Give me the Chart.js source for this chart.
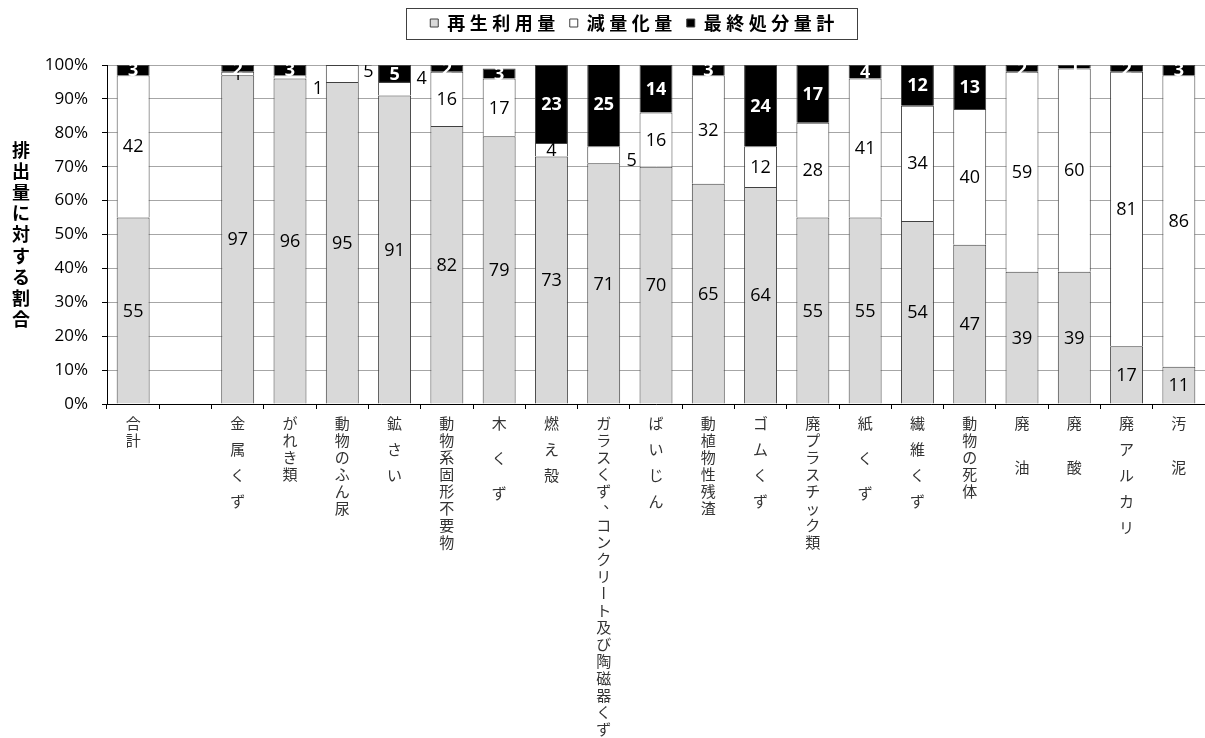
<!DOCTYPE html>
<html lang="ja">
<head>
<meta charset="utf-8">
<script src="https://cdn.jsdelivr.net/npm/chart.js@4.4.0/dist/chart.umd.min.js"></script>
<style>
  html, body { margin: 0; padding: 0; background: #fff; }
  #wrap { width: 1205px; height: 738px; position: relative; }
</style>
</head>
<body>
<div id="wrap"><canvas id="c"></canvas></div>
<script>
// 種類別の排出量に対する再生利用・減量化・最終処分の割合（%）
const categories = [
  '合計', '', '金 属 く ず', 'がれき類', '動物のふん尿', '鉱 さ い', '動物系固形不要物',
  '木  く  ず', '燃 え 殻', 'ガラスくず、コンクリート及び陶磁器くず', 'ば い じ ん',
  '動植物性残渣', 'ゴ ム く ず', '廃プラスチック類', '紙  く  ず', '繊 維 く ず',
  '動物の死体', '廃   油', '廃   酸', '廃 ア ル カ リ', '汚   泥'
];
const seriesNames = ['再生利用量', '減量化量', '最終処分量計'];
const recycled = [55, null, 97, 96, 95, 91, 82, 79, 73, 71, 70, 65, 64, 55, 55, 54, 47, 39, 39, 17, 11];
const reduced  = [42, null, 1, 1, 5, 4, 16, 17, 4, 5, 16, 32, 12, 28, 41, 34, 40, 59, 60, 81, 86];
const disposed = [3, null, 2, 3, 0, 5, 2, 3, 23, 25, 14, 3, 24, 17, 4, 12, 13, 2, 1, 2, 3];
const yTickLabels = ['0%', '10%', '20%', '30%', '40%', '50%', '60%', '70%', '80%', '90%', '100%'];
const yTitle = '排出量に対する割合';

// Labels of thin segments that sit beside their bar instead of on it
const sideLabels = [
  { ds: 1, idx: 3, dx: 28, dy: 11 },
  { ds: 1, idx: 4, dx: 26, dy: -3 },
  { ds: 1, idx: 5, dx: 27, dy: -11 },
  { ds: 1, idx: 9, dx: 28, dy: 5 }
];

const fills = ['#d9d9d9', '#ffffff', '#000000'];
const numFont = '"Open Sans", "Noto Sans", sans-serif';
const cjkFont = '"Noto Sans CJK JP", sans-serif';
const legendShift = 32;
const legendSpacing = '4.5px';

// Stacked percentage labels, clipped to the plot area
const segmentLabels = {
  id: 'segmentLabels',
  afterDatasetsDraw(chart) {
    const { ctx, chartArea } = chart;
    ctx.save();
    ctx.beginPath();
    ctx.rect(chartArea.left, chartArea.top, chartArea.right - chartArea.left, chartArea.bottom - chartArea.top);
    ctx.clip();
    ctx.textAlign = 'center';
    ctx.textBaseline = 'middle';
    chart.data.datasets.forEach((ds, di) => {
      const meta = chart.getDatasetMeta(di);
      meta.data.forEach((bar, i) => {
        const v = ds.data[i];
        if (v === null || v === 0) return;
        let x = bar.x;
        let y = (bar.y + bar.base) / 2;
        const side = sideLabels.find(s => s.ds === di && s.idx === i);
        if (side) { x += side.dx; y += side.dy; }
        if (di === 2) {
          ctx.fillStyle = '#ffffff';
          ctx.font = 'bold 18px ' + numFont;
        } else {
          ctx.fillStyle = '#000000';
          ctx.font = '18px ' + numFont;
        }
        ctx.fillText(String(v), x, y + 1);
      });
    });
    ctx.restore();
  }
};

// Vertical (top-to-bottom) category names and the stacked y-axis title
const verticalText = {
  id: 'verticalText',
  afterDraw(chart) {
    const { ctx, chartArea } = chart;
    const xs = chart.scales.x;
    ctx.save();
    ctx.font = '15px ' + cjkFont;
    ctx.fillStyle = '#333333';
    ctx.textAlign = 'center';
    ctx.textBaseline = 'middle';
    categories.forEach((name, i) => {
      const cx = xs.getPixelForValue(i);
      let y = chartArea.bottom + 19;
      for (const ch of name) {
        if (ch === ' ') { y += 9; continue; }
        if (ch === 'ー') {
          ctx.save();
          ctx.translate(cx, y);
          ctx.rotate(Math.PI / 2);
          ctx.fillText(ch, 0, 0);
          ctx.restore();
        } else if (ch === '、') {
          ctx.fillText(ch, cx + 7, y - 6);
        } else {
          ctx.fillText(ch, cx, y);
        }
        y += 17;
      }
    });
    // y-axis title, one character per line
    ctx.font = 'bold 18px ' + cjkFont;
    ctx.fillStyle = '#000000';
    const chars = [...yTitle];
    const step = 21.2;
    const mid = (chartArea.top + chartArea.bottom) / 2;
    let ty = mid - step * (chars.length - 1) / 2;
    chars.forEach(ch => { ctx.fillText(ch, 21, ty); ty += step; });
    ctx.restore();
  }
};

// Wider letter spacing for the legend text, extra room below it, and a frame around it
const legendFrame = {
  id: 'legendFrame',
  beforeInit(chart) {
    const lg = chart.legend;
    const fit = lg.fit;
    const draw = lg.draw;
    lg.fit = function () {
      const ctx = this.ctx;
      const prev = ctx.letterSpacing;
      ctx.letterSpacing = legendSpacing;
      fit.call(this);
      ctx.letterSpacing = prev || '0px';
      this.height += 23;
    };
    lg.draw = function () {
      const ctx = this.ctx;
      ctx.save();
      ctx.letterSpacing = legendSpacing;
      ctx.translate(legendShift, 0);
      draw.call(this);
      ctx.restore();
    };
  },
  afterDraw(chart) {
    const boxes = chart.legend.legendHitBoxes;
    if (!boxes || !boxes.length) return;
    const left = Math.min(...boxes.map(b => b.left)) - 24 + legendShift;
    const right = Math.max(...boxes.map(b => b.left + b.width)) + 19 + legendShift;
    const top = Math.min(...boxes.map(b => b.top)) - 6;
    const bottom = Math.max(...boxes.map(b => b.top + b.height)) + 7;
    const { ctx } = chart;
    ctx.save();
    ctx.strokeStyle = '#404040';
    ctx.lineWidth = 1;
    ctx.strokeRect(Math.round(left) + 0.5, Math.round(top) + 0.5, Math.round(right - left), Math.round(bottom - top));
    ctx.restore();
  }
};

const datasets = [recycled, reduced, disposed].map((vals, k) => ({
  label: seriesNames[k],
  data: vals,
  backgroundColor: fills[k],
  borderColor: '#404040',
  borderWidth: 1,
  barPercentage: 0.63,
  categoryPercentage: 1.0
}));

new Chart(document.getElementById('c'), {
  type: 'bar',
  data: { labels: categories, datasets },
  plugins: [segmentLabels, verticalText, legendFrame],
  options: {
    responsive: true,
    maintainAspectRatio: false,
    animation: false,
    layout: { padding: { top: 4, right: 0, bottom: 0, left: 0 } },
    plugins: {
      legend: {
        position: 'top',
        align: 'center',
        labels: {
          boxWidth: 8,
          boxHeight: 8,
          padding: 10,
          color: '#000',
          font: { family: cjkFont, size: 18, weight: 'bold' }
        }
      },
      tooltip: { enabled: false }
    },
    scales: {
      x: {
        stacked: true,
        offset: true,
        grid: {
          offset: true,
          drawOnChartArea: false,
          drawTicks: true,
          tickLength: 5,
          tickColor: '#000',
          color: '#000'
        },
        border: { display: true, color: '#000', width: 1 },
        ticks: { callback: () => '', autoSkip: false, maxRotation: 0 },
        afterFit(scale) { scale.height = 334; }
      },
      y: {
        stacked: true,
        min: 0,
        max: 100,
        grid: {
          color: '#a6a6a6',
          tickColor: '#000',
          tickLength: 5,
          lineWidth: 1
        },
        border: { display: true, color: '#000', width: 1 },
        ticks: {
          stepSize: 10,
          padding: 14,
          color: '#000',
          font: { family: numFont, size: 17 },
          callback: (v) => yTickLabels[Math.round(v / 10)]
        },
        afterFit(scale) { scale.width = 107; }
      }
    }
  }
});
</script>
</body>
</html>
